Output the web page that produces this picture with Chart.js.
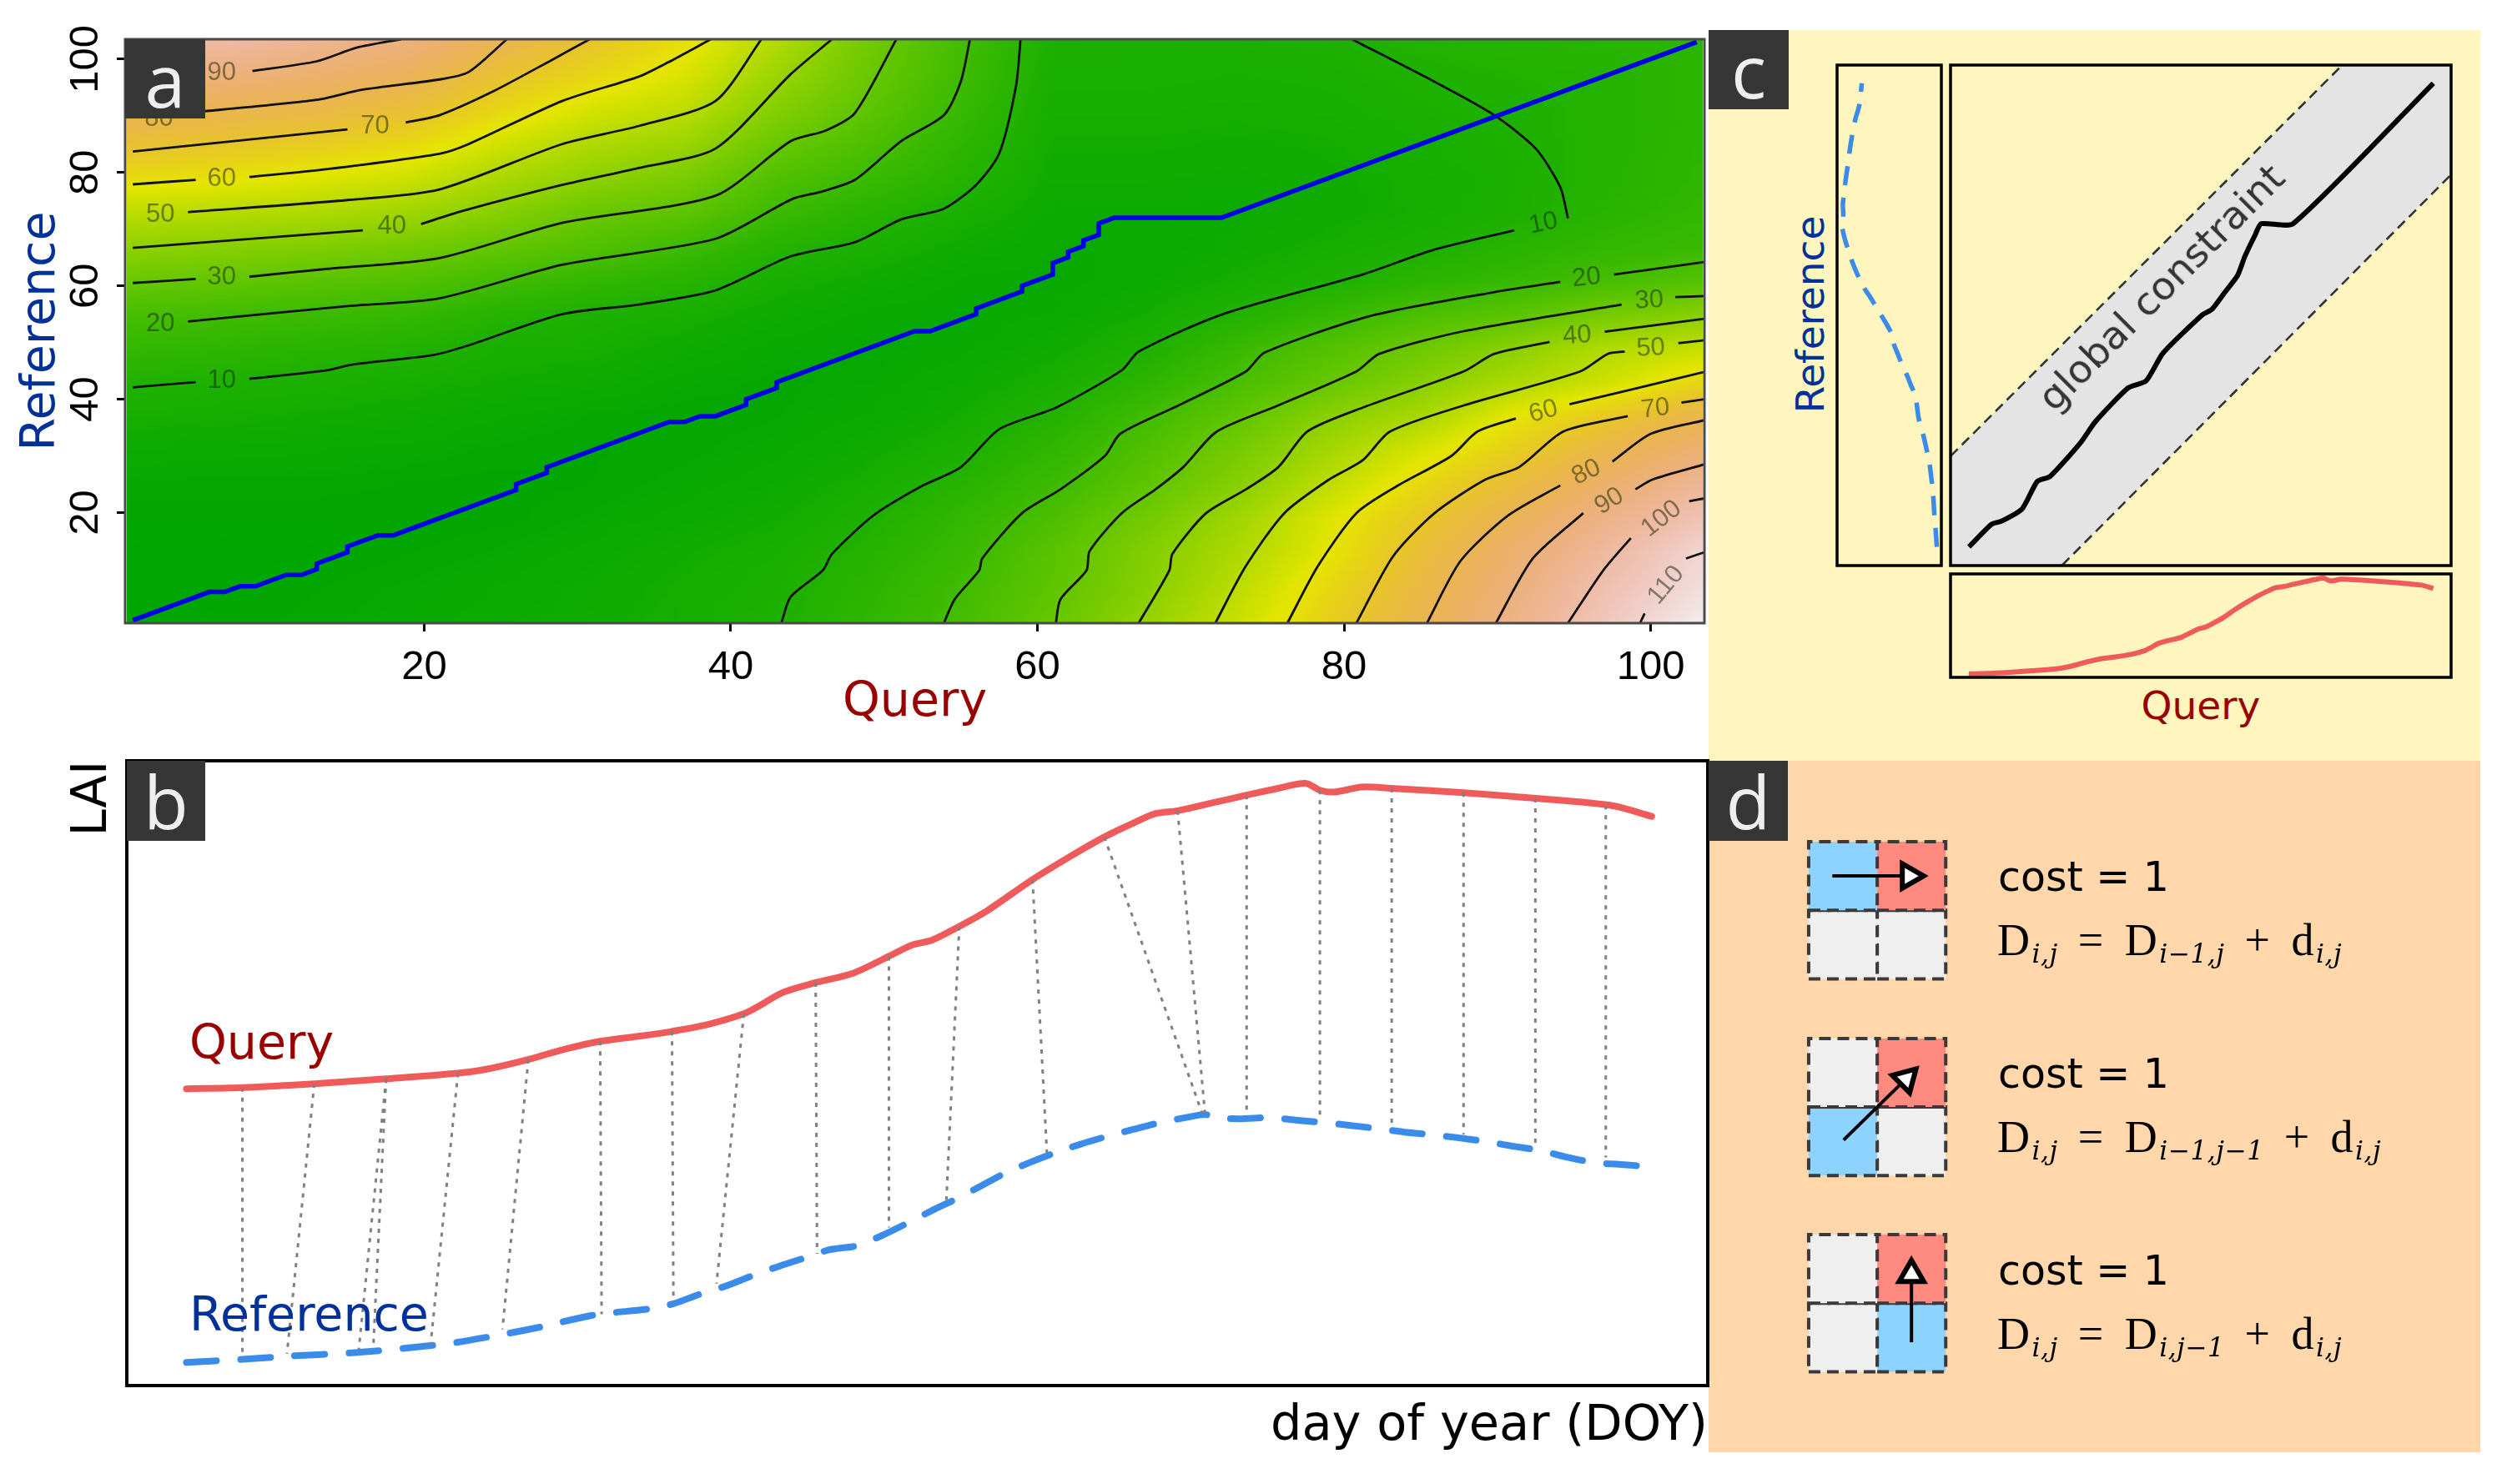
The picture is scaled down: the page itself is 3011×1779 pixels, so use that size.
<!DOCTYPE html>
<html><head><meta charset="utf-8">
<script src="https://cdn.jsdelivr.net/npm/chart.js@4"></script>
<style>
html,body{margin:0;padding:0;background:#fff;width:3011px;height:1779px;overflow:hidden}
#stage{position:relative;width:3011px;height:1779px}
canvas{position:absolute}
.t{position:absolute;white-space:nowrap;font-family:"DejaVu Sans";line-height:1}
.box{position:absolute;background:#363636;color:#eee;font-family:"Open Sans";font-size:88px;display:flex;align-items:center;justify-content:center;line-height:1;z-index:5}
.bg{position:absolute}
.f{letter-spacing:1.5px;word-spacing:9px}
sub{font-family:"DejaVu Serif";font-size:58%;font-style:italic;vertical-align:baseline;position:relative;top:.3em;letter-spacing:.5px;margin-left:1px}
</style></head><body><div id="stage"></div>
<script>
// ---------- panel a : accumulated cost matrix ----------
const axisTicks=[20,40,60,80,100];
const gridNodes=[1,7,13,19,25,31,37,43,49,55,61,67,73,79,85,91,97,103];
const costQ1 =[0,.3,.6,1,2,4.5,7.5,11,16.5,22,31,40.5,50.5,62,72,82,91,99];
const costQ7 =[1,.3,.5,1,2,4,7,9.7,15,20.5,29.5,39,49,60.5,69.5,79.5,89.5,99];
const costQ13=[2,1.5,.6,1,2,3.5,6,9,13,19,27,37,47.5,57.5,67,77,86,94.5];
const costQ19=[3,2.5,1.5,.9,1.5,3,5,7.5,11.5,17,25,34,44,54,63,72.5,81.5,90];
const costQ25=[4,3.5,2.5,1.2,1.2,2,3.5,6,8,12.5,20.5,29.5,38.5,46.5,54.5,63.5,71,79.5];
const costQ31=[5.5,5,4,2.5,1.6,1.5,2.2,5,7.5,9.5,16.5,25,31,40,47.5,55.5,63.5,70];
const costQ37=[7.5,7,6,4,2.7,2,1.8,2.8,5,8,13,19.5,28,35,43,50.5,56.5,61];
const costQ43=[9.7,9,8,6,4.5,3,2.2,2,2.8,5,8,12.5,19,24.5,31,37.5,43,48];
const costQ49=[15.2,13.8,12,10,7.5,5.5,3.5,2.6,2.3,3,5.5,9,13,18.5,23.5,28,31,33];
const costQ55=[21.5,20,18,16,12.5,9,6.5,4.5,3,2.6,3.2,5.5,8.5,12.5,15,17.5,20,21];
const costQ61=[30,28,26.5,23,19,15.5,11.5,8,5.5,3.5,3,3.5,4.5,5.5,6.5,7.5,8.5,9.2];
const costQ67=[41,38,37,33,28,24,20,14.5,9.5,6.5,4,3.5,4.5,5.5,6.5,7.5,8.5,8.5];
const costQ73=[53,50,47,44,38,34,28.5,22.5,18,11,7,5,4.5,5,6,7,8,9];
const costQ79=[66,63,59,57,51,45,39,30,25,17,9.5,7,5.5,6,6.5,7.5,8.5,9.8];
const costQ85=[79,76,73,69,63,56,46,38.5,32,23,14,8.8,7,7,8,9,10,11.5];
const costQ91=[92.5,89.5,86.5,81,74,66.5,59,47,39,27,17,13,9.5,9,9.5,10,11,12.5];
const costQ97=[105,102,98,92.5,85.5,78,68,54,48,33.5,21.5,16,13,12,12,12,12,13];
const costQ103=[116,112,110,103,96,87,78,64,52,38,25,18,16,15,14.5,14,14,14];
const costColumns=[costQ1,costQ7,costQ13,costQ19,costQ25,costQ31,costQ37,costQ43,costQ49,costQ55,costQ61,costQ67,costQ73,costQ79,costQ85,costQ91,costQ97,costQ103];
const costMax=118;

const warpPathA=[[1,1],[6,6],[7,6],[8,7],[9,7],[11,9],[12,9],[13,10],[13,11],[15,13],[15,14],[17,16],[18,16],[26,24],[26,25],[28,27],[28,28],[36,36],[37,36],[38,37],[39,37],[41,39],[41,40],[43,42],[43,43],[52,52],[53,52],[56,55],[56,56],[59,59],[59,60],[61,62],[61,64],[62,65],[62,66],[63,67],[63,68],[64,69],[64,71],[65,72],[72,72],[103,103]];

const contourLines=[
 [[1,42.1],[5.1,43]],
 [[8.6,43.6],[13.7,45.1],[15.3,46.1],[20.6,47.8],[22.9,49.5],[29,55],[34,56.7],[39,59.2],[43.9,65.2],[48.1,67.7],[51.1,71.7],[53.9,73.6],[56,77.8],[57.5,83.3],[58.6,95.2],[58.9,103.5]],
 [[4.6,53.7],[14.9,56.4],[21,57.8],[29,63.7],[39,68.3],[44,75.3],[45.9,76.6],[48.1,78.7],[51.1,85.5],[53.9,90.1],[55,96],[55.6,103.5]],
 [[1,60.5],[5.1,61.2]],
 [[8.6,61.6],[13.7,63],[21,64.9],[29,71.1],[39,75.9],[43.9,85.5],[46.2,87.4],[48.1,90.5],[50.8,103.5]],
 [[1,66.7],[16,69.8]],
 [[19.8,70.9],[22.5,73.2],[29,77.8],[34,80.8],[39,84.2],[43.9,97.3],[46.6,103.5]],
 [[4.6,73],[14.9,75.1],[21,77],[29,85],[34,88.2],[39,92.6],[42,103.5]],
 [[1,77.9],[5.1,78.7]],
 [[8.6,79.2],[13.7,80.6],[21,83.3],[22.9,85],[29,92.6],[34,96.9],[35.9,99.4],[38.7,103.5]],
 [[1,83.7],[15,87.6]],
 [[18.8,88.8],[21,90.1],[24.5,94.3],[28.3,99.8],[30.8,103.5]],
 [[1,89.8],[5.7,90.8],[13,92.8],[16,94.6],[21,96.4],[22.9,97.7],[25.4,103.5]],
 [[8.8,97.9],[13,99.6],[15.6,102],[18.5,103.5]],
 [[43.3,.5],[43.9,5.1],[46,9.8],[46.6,12.7],[49.3,19.5],[52.4,24.6],[55,28],[57.5,34.7],[61.2,38.5],[65.5,45.1],[66.6,48.4],[72.1,55],[81.2,62],[85.9,66.4],[91.1,69.8]],
 [[94.6,71.9],[94.1,77.4],[92.5,84.2],[89.8,90.1],[85.9,96],[80.5,103.5]],
 [[53.9,.5],[54.6,4.7],[56.2,9.8],[56.4,11.9],[59,19.9],[61.5,24.1],[64.4,30],[65.4,33.9],[69.2,38.9],[73.6,44.9],[74.8,48.2],[81.6,54.6],[89.6,58.8],[94.1,60.7]],
 [[97.6,62],[103.5,64.2]],
 [[61.2,.5],[61.5,4.7],[63.2,9.8],[63.4,13.2],[65.5,19.9],[67.7,24.1],[69.5,28],[71.7,34.3],[75.7,38.9],[80.8,44.9],[82.3,48],[87.8,52],[98.1,56.7]],
 [[101.6,58],[103.5,58.2]],
 [[66.6,.5],[68.6,9.8],[68.8,12.7],[71,19.9],[73.6,24.1],[75.7,28],[77.6,34.3],[81.2,38.5],[87.8,44.9],[89.8,48],[93.4,50.1]],
 [[97,51.9],[103.5,54.2]],
 [[71.6,.5],[73.6,10.6],[76.1,19.9],[79,25.8],[81.2,29.2],[83,34.3],[87.8,38.9],[95.4,44.9],[97.2,48],[98.3,48.4]],
 [[101.8,49.9],[103.5,50.4]],
 [[76.3,.5],[78.3,10.6],[80.8,19.9],[83.4,24.6],[87,30],[88.7,34.3],[91.2,36.6]],
 [[94.7,39.1],[103.5,44.8]],
 [[80.8,.5],[83.2,12.3],[85.9,19.9],[89.2,25.8],[91.4,28],[94.3,34.3],[98.5,37]],
 [[102,39.4],[103.5,40]],
 [[85.4,.5],[87.6,11.5],[90.7,19.5],[94.1,24.8]],
 [[97.5,29],[100,33.9],[103.5,36.3]],
 [[89.9,.5],[92.3,11.9],[95.6,19.9]],
 [[99,24.1],[100.1,25.8],[103.5,28.5]],
 [[94.6,.5],[96.9,9.8],[98.7,15.5]],
 [[102.5,22],[103.5,22.5]],
 [[99.3,.5],[99.6,2.2]],
 [[102.3,11.9],[103.5,13]]
];
const contourLabelText=["90","80","70","60","50","40","30","20","10","10","20","30","40","50","60","70","80","90","100","110"];
const contourLabelX=[6.8,2.7,16.8,6.8,2.8,17.9,6.8,2.8,6.8,93,95.8,99.9,95.2,100,93,100.3,95.8,97.3,100.7,101];
const contourLabelY=[97.5,89.4,88.2,78.9,72.6,70.4,61.5,53.3,43.3,71,61.4,57.4,51.2,49,37.8,38.3,27.1,22,18.9,7.2];
const contourLabelAngle=[0,0,0,0,0,0,0,0,0,-12,-6,-3,-4,-3,-15,-6,-25,-32,-38,-50];

// ---------- panel b / c : the two time series ----------
const queryDay=[1,4.9,9.9,14.9,19.9,21.8,24.8,27.1,29.8,32.8,34.8,37.3,39.8,40.9,42.5,44.8,47.4,49.9,51.5,52.9,54.8,56.8,59.9,62.6,64.9,66.9,68.4,70,72.3,74.8,77,78.9,79.9,80.9,82.8,84.8,89.9,94.9,100.3,103];
const queryLAI=[47.5,47.7,48.3,49.1,50,50.6,52.2,53.7,55.1,56,56.7,57.8,59.5,60.8,62.9,64.5,66,68.7,70.5,71.3,73.5,76.1,81,84.8,87.8,90,91.5,92,93.2,94.5,95.6,96.4,95.3,95,95.8,95.6,94.9,94,92.8,91.1];
const referenceDay=[1,4.9,8,12.9,18,19.8,23.5,25.7,29.4,33.3,34.9,36.7,38.5,40.4,42,44,45.7,47.7,49.4,51.1,52.8,54.6,56.2,57.9,59.6,61.4,63.2,65.1,66.9,68.8,70.6,71.9,72.5,74.3,76.4,78.2,80.1,81.8,84,85.7,87.9,89.4,91.6,93.1,95.3,97,99,100.7,103];
const referenceLAI=[3.7,4.2,4.7,5.3,6.4,6.9,8.4,9.4,11.3,12.3,13.1,14.6,15.9,17.6,18.9,20.4,21.7,22.4,24,25.9,27.9,29.9,31.8,33.9,35.6,37.2,38.6,39.9,41,42.1,42.9,43.4,42.9,42.7,42.9,42.5,42.1,41.7,41.1,40.6,40.1,39.7,39,38.4,37.6,36.6,35.7,35.4,35];
const linkQueryDay=[4.9,9.9,14.9,14.9,19.9,24.8,29.8,34.8,39.8,44.8,49.9,54.8,59.9,64.9,70,74.8,79.9,84.9,89.9,94.9,99.8];
const linkQueryLAI=[47.7,48.3,49.1,49.1,50,52.2,55.1,56.7,59.5,64.5,68.7,73.5,81,87.8,92,94.5,95.3,95.6,94.9,94,92.9];
const linkRefDay=[4.9,8,13,14,18,23,29.9,34.9,37.9,44.9,49.9,53.9,60.9,71.7,71.9,74.8,79.9,84.9,89.9,94.9,99.8];
const linkRefLAI=[4.2,5.1,5.8,5.8,6.6,9,11.4,13.3,16.3,21.1,25.3,29.7,37.2,43.6,43.6,43.6,42.5,41,40.2,38,36.5];

// ---------- panel c : warping path and band ----------
const warpPathC=[[1,1],[6,6],[8.2,6.7],[12.7,9.4],[16,15.4],[18.8,16.5],[25.5,23.9],[28.8,28.6],[36,36],[39.9,37.5],[43.6,43.6],[52.2,52],[54.4,53.3],[57.2,57],[60,60.7],[61.6,64.9],[63.9,69.7],[65.2,72.1],[72.2,72.1],[103,103]];
const bandUpper=[[-3,21],[83,107]];
const bandLower=[[21.5,-3],[107,83]];
const bandShape=[[-3,-3],[-3,21],[83,107],[107,107],[107,83],[21.5,-3],[-3,-3]];

// ---------- panel d : step patterns ----------
const stepCellColours=[
 ["#8CD3FF","#FF8A80","#EFEFEF","#EFEFEF"],
 ["#EFEFEF","#FF8A80","#8CD3FF","#EFEFEF"],
 ["#EFEFEF","#FF8A80","#EFEFEF","#8CD3FF"]];
const stepBaseY=[5.73,2.86,0];
const stepArrows=[[[.346,7.23],[1.47,7.23]],[[.51,3.38],[1.42,4.27]],[[1.5,.43],[1.5,1.42]]];
const stepArrowRotation=[90,45,0];
const stepCostText=["cost = 1","cost = 1","cost = 1"];
const stepFormula=[
 'D<sub>i,j</sub> = D<sub>i−1,j</sub> + d<sub>i,j</sub>',
 'D<sub>i,j</sub> = D<sub>i−1,j−1</sub> + d<sub>i,j</sub>',
 'D<sub>i,j</sub> = D<sub>i,j−1</sub> + d<sub>i,j</sub>'];

const stage=document.getElementById('stage');
function div(cls,style,html){const d=document.createElement('div');d.className=cls;Object.assign(d.style,style);if(html!==undefined)d.innerHTML=html;stage.appendChild(d);return d;}
div('bg',{left:'2048px',top:'36px',width:'925px',height:'876px',background:'#FEF6BE'});
div('bg',{left:'2048px',top:'912px',width:'925px',height:'829px',background:'#FFD7AB'});

function xy(p){return p.map(a=>({x:a[0],y:a[1]}));}
function zip(a,b){return a.map((v,i)=>({x:v,y:b[i]}));}
const base={responsive:false,animation:false,devicePixelRatio:1,events:[],plugins:{legend:{display:false},tooltip:{enabled:false},title:{display:false}}};
function panel(box,pad,scales,datasets,plugins){
 const c=document.createElement('canvas');
 const w=box.r-box.l+pad.l+pad.r,h=box.b-box.t+pad.t+pad.b;
 c.width=w;c.height=h;c.style.left=(box.l-pad.l)+'px';c.style.top=(box.t-pad.t)+'px';c.style.width=w+'px';c.style.height=h+'px';
 stage.appendChild(c);
 return new Chart(c,{type:'scatter',data:{datasets},plugins:plugins||[],options:{...base,
   layout:{autoPadding:false,padding:{left:scales.y.display===false?pad.l:0,right:pad.r,top:pad.t,bottom:scales.x.display===false?pad.b:0}},scales}});
}
function frame(color,w){return {id:'frame',afterDatasetsDraw(ch){const a=ch.chartArea,x=ch.ctx;x.save();x.strokeStyle=color;x.lineWidth=w;x.strokeRect(a.left,a.top,a.right-a.left,a.bottom-a.top);x.restore();}};}
function hsv(h,s,v){const i=Math.floor(h*6)%6,f=h*6-Math.floor(h*6),p=v*(1-s),q=v*(1-f*s),t=v*(1-(1-f)*s);
 const m=[[v,t,p],[q,v,p],[p,v,t],[p,q,v],[t,p,v],[v,p,q]][i];return m.map(c=>Math.round(c*255));}
function terrain(val){const t=Math.min(1,Math.max(0,val/costMax));
 if(t<.5){const u=t*2;return hsv((4-2*u)/12,1,.65+.25*u);}
 const u=(t-.5)*2;return hsv(Math.max(0,(2-2*u))/12,1-u,.9+.05*u);}

// the cost cells are shaded smoothly in value space, as the original raster is
const heat={id:'heat',beforeDatasetsDraw(ch){
 const n=gridNodes.length,sub=8,m=(n-1)*sub+1,off=document.createElement('canvas');off.width=m;off.height=m;
 const o=off.getContext('2d'),img=o.createImageData(m,m);
 for(let a=0;a<m;a++)for(let b=0;b<m;b++){
  const i=Math.min(n-2,Math.floor(a/sub)),j=Math.min(n-2,Math.floor(b/sub)),u=a/sub-i,w=b/sub-j;
  const v=(1-u)*(1-w)*costColumns[i][j]+u*(1-w)*costColumns[i+1][j]+(1-u)*w*costColumns[i][j+1]+u*w*costColumns[i+1][j+1];
  const k=((m-1-b)*m+a)*4,c=terrain(v);img.data[k]=c[0];img.data[k+1]=c[1];img.data[k+2]=c[2];img.data[k+3]=255;}
 o.putImageData(img,0,0);
 const half=3/sub,X=ch.scales.x,Y=ch.scales.y,x0=X.getPixelForValue(gridNodes[0]-half),x1=X.getPixelForValue(gridNodes[n-1]+half),y0=Y.getPixelForValue(gridNodes[n-1]+half),y1=Y.getPixelForValue(gridNodes[0]-half);
 const a=ch.chartArea,x=ch.ctx;x.save();x.beginPath();x.rect(a.left,a.top,a.right-a.left,a.bottom-a.top);x.clip();
 x.imageSmoothingEnabled=true;x.imageSmoothingQuality='high';x.drawImage(off,x0,y0,x1-x0,y1-y0);x.restore();
},afterDatasetsDraw(ch){
 const X=ch.scales.x,Y=ch.scales.y,x=ch.ctx;x.save();x.font='31px "Liberation Sans"';x.fillStyle='rgba(20,30,0,.5)';x.textAlign='center';x.textBaseline='middle';
 contourLabelText.forEach((s,i)=>{x.save();x.translate(X.getPixelForValue(contourLabelX[i]),Y.getPixelForValue(contourLabelY[i]));x.rotate(contourLabelAngle[i]*Math.PI/180);x.fillText(s,0,0);x.restore();});
 x.restore();}};

// panel a
const fixedTicks=(s)=>{s.ticks=axisTicks.map(v=>({value:v}));};
const noPad=s=>{s.paddingTop=0;s.paddingBottom=0;s.paddingLeft=0;s.paddingRight=0;};
panel({l:150,t:47,r:2043,b:747},{l:150,t:47,r:8,b:130},{
 x:{type:'linear',min:.5,max:103.5,afterBuildTicks:fixedTicks,afterFit:s=>{s.height=130;noPad(s);},
  grid:{drawOnChartArea:false,drawTicks:true,tickLength:10,tickColor:'#000',tickWidth:3},border:{display:false},
  ticks:{autoSkip:false,maxRotation:0,color:'#000',padding:14,font:{family:'"Liberation Sans"',size:49}},
  title:{display:true,text:'Query',color:'#990000',padding:{top:0,bottom:0},font:{family:'"DejaVu Sans"',size:57}}},
 y:{type:'linear',min:.5,max:103.5,afterBuildTicks:fixedTicks,afterFit:s=>{s.width=150;noPad(s);},
  grid:{drawOnChartArea:false,drawTicks:true,tickLength:10,tickColor:'#000',tickWidth:3},border:{display:false},
  ticks:{autoSkip:false,minRotation:90,maxRotation:90,crossAlign:'center',color:'#000',padding:-4,font:{family:'"Liberation Sans"',size:49}},
  title:{display:true,text:'Reference',color:'#00309A',padding:{top:16,bottom:0},font:{family:'"DejaVu Sans"',size:57}}}
},[{data:xy(warpPathA),showLine:true,pointRadius:0,borderColor:'#0000E6',borderWidth:5.5,tension:0}]
 .concat(contourLines.map(c=>({data:xy(c),showLine:true,pointRadius:0,borderColor:'#111',borderWidth:2.8,tension:.25}))),[heat,frame('#4a4a4a',3)]);

// panel b
const curveNames={id:'curveNames',afterDatasetsDraw(ch){const X=ch.scales.x,Y=ch.scales.y,x=ch.ctx;x.save();x.font='57px "DejaVu Sans"';x.textBaseline='middle';
 x.fillStyle='#990000';x.fillText('Query',X.getPixelForValue(1.2),Y.getPixelForValue(54.3));
 x.fillStyle='#00309A';x.fillText('Reference',X.getPixelForValue(1.2),Y.getPixelForValue(10.8));x.restore();}};
panel({l:152,t:912,r:2047,b:1661},{l:152,t:4,r:3,b:85},{
 x:{type:'linear',min:-3.15,max:106.9,afterFit:s=>{s.height=85;},grid:{display:false},border:{display:false},ticks:{display:false},
  title:{display:true,text:'day of year (DOY)',align:'end',color:'#000',padding:{top:0,bottom:0},font:{family:'"DejaVu Sans"',size:59}}},
 y:{type:'linear',min:0,max:100,afterFit:s=>{s.width=152;},grid:{display:false},border:{display:false},ticks:{display:false},
  title:{display:true,text:'LAI',align:'end',color:'#000',padding:{top:77,bottom:0},font:{family:'"DejaVu Sans"',size:58}}}
},linkQueryDay.map((d,i)=>({data:[{x:d,y:linkQueryLAI[i]},{x:linkRefDay[i],y:linkRefLAI[i]}],showLine:true,pointRadius:0,borderColor:'#808080',borderWidth:3,borderDash:[5,7]}))
 .concat([{data:zip(queryDay,queryLAI),showLine:true,pointRadius:0,borderColor:'#EF5B5B',borderWidth:8,tension:.3,borderCapStyle:'round'},
 {data:zip(referenceDay,referenceLAI),showLine:true,pointRadius:0,borderColor:'#3B8BEA',borderWidth:8,tension:.3,borderDash:[36,29],borderCapStyle:'round'}]),[curveNames,frame('#000',4)]);

// panel c
const P4={l:4,t:4,r:4,b:4};
const hide=(o)=>Object.assign({type:'linear',display:false},o);
panel({l:2338,t:78,r:2938,b:678},P4,{x:hide({min:-3.04,max:106.9}),y:hide({min:-3.1,max:107})},[
 {data:xy(warpPathC),showLine:true,pointRadius:0,borderColor:'#000',borderWidth:6,tension:.2,borderCapStyle:'butt'},
 {data:xy(bandUpper),showLine:true,pointRadius:0,borderColor:'#333',borderWidth:2.6,borderDash:[12,7]},
 {data:xy(bandLower),showLine:true,pointRadius:0,borderColor:'#333',borderWidth:2.6,borderDash:[12,7]},
 {data:xy(bandShape),showLine:true,pointRadius:0,borderWidth:0,borderColor:'rgba(0,0,0,0)',backgroundColor:'#E4E4E4',fill:'shape'}
],[frame('#000',3.5)]);
panel({l:2202,t:78,r:2327,b:678},P4,{x:hide({min:1.8,max:45.3,reverse:true}),y:hide({min:-3.1,max:107})},[
 {data:referenceLAI.map((v,i)=>({x:v,y:referenceDay[i]})),showLine:true,pointRadius:0,borderColor:'#3B8BEA',borderWidth:5.5,tension:.3,borderDash:[23,15]}
],[frame('#000',3.5)]);
panel({l:2338,t:688,r:2938,b:812},P4,{x:hide({min:-3.04,max:106.9}),y:hide({min:45.7,max:98.5})},[
 {data:zip(queryDay,queryLAI),showLine:true,pointRadius:0,borderColor:'#EF5B5B',borderWidth:6,tension:.3}
],[frame('#000',3.5)]);

// panel d
const cellDatasets=[];
stepCellColours.forEach((cols,g)=>cols.forEach((col,k)=>{const c=k%2,r=k<2?1:0,b=stepBaseY[g]+r;
 cellDatasets.push({data:[{x:c,y:b},{x:c+1,y:b},{x:c+1,y:b+1},{x:c,y:b+1},{x:c,y:b}],showLine:true,pointRadius:0,borderColor:'#3a3a3a',borderWidth:4,borderDash:[14,8],backgroundColor:col,fill:'shape'});}));
const arrowDatasets=stepArrows.map((a,i)=>({data:xy(a),showLine:true,borderColor:'#000',borderWidth:4,pointRadius:[0,17],pointStyle:'triangle',pointRotation:stepArrowRotation[i],pointBackgroundColor:'#fff',pointBorderColor:'#000',pointBorderWidth:6}));
panel({l:2048,t:912,r:2973,b:1741},{l:0,t:0,r:0,b:0},{x:hide({min:-1.46,max:9.8}),y:hide({min:-1.175,max:8.91})},arrowDatasets.concat(cellDatasets));

// text outside the charts
function txt(s,x,y,size,color,extra){return div('t',Object.assign({left:x+'px',top:y+'px',fontSize:size+'px',color:color,transform:'translateY(-50%)'},extra||{}),s);}
[1051,1287,1523].forEach((y,i)=>txt(stepCostText[i],2395,y,49,'#000'));
[1127,1363,1599].forEach((y,i)=>{const d=txt(stepFormula[i],2394,y,54,'#000',{fontFamily:'"Liberation Serif"'});d.classList.add('f');});
txt('Query',2638,845,47,'#990000',{transform:'translate(-50%,-50%)'});
txt('Reference',2169,377,47,'#00309A',{transform:'translate(-50%,-50%) rotate(-90deg)'});
txt('global constraint',2590,344,47,'#333',{transform:'translate(-50%,-50%) rotate(-45deg)'});

[['a',150,47,96,95],['b',152,912,94,96],['c',2048,36,96,95],['d',2048,912,95,96]].forEach(b=>{
 div('box',{left:b[1]+'px',top:b[2]+'px',width:b[3]+'px',height:b[4]+'px'},b[0]);});
</script></body></html>
